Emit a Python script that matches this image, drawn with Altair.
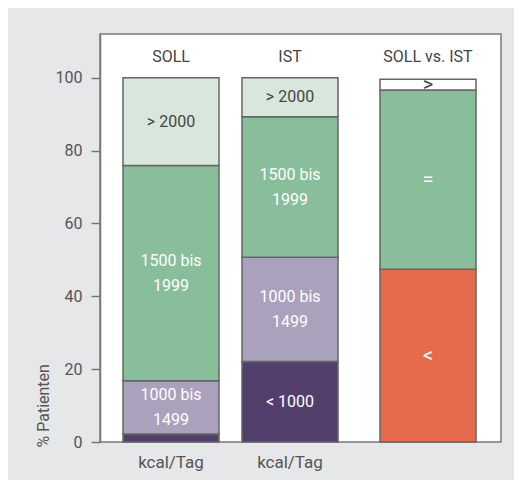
import altair as alt
import pandas as pd

# ---- data ----
groups = ["SOLL", "SOLL", "SOLL", "SOLL",
          "IST", "IST", "IST", "IST",
          "SOLL vs. IST", "SOLL vs. IST", "SOLL vs. IST"]
categories = ["< 1000", "1000 bis 1499", "1500 bis 1999", "> 2000",
              "< 1000", "1000 bis 1499", "1500 bis 1999", "> 2000",
              "<", "=", ">"]
values = [2.2, 14.6, 59.1, 24.1,
          22.1, 28.6, 38.6, 10.7,
          47.4, 49.2, 3.0]
labels = ["", "1000 bis\n1499", "1500 bis\n1999", "> 2000",
          "< 1000", "1000 bis\n1499", "1500 bis\n1999", "> 2000",
          "<", "=", ">"]
order = [0, 1, 2, 3, 0, 1, 2, 3, 0, 1, 2]

header_groups = ["SOLL", "IST", "SOLL vs. IST"]
header_texts = ["SOLL", "IST", "SOLL vs. IST"]
bottom_groups = ["SOLL", "IST"]
bottom_texts = ["kcal/Tag", "kcal/Tag"]

cat_domain = ["< 1000", "1000 bis 1499", "1500 bis 1999", "> 2000", "<", "=", ">"]
cat_fill = ["#533f6b", "#aaa1bd", "#88be99", "#d8e7db", "#e66b4d", "#88be99", "#ffffff"]
cat_text = ["#ffffff", "#ffffff", "#ffffff", "#444444", "#ffffff", "#ffffff", "#444444"]

df = pd.DataFrame({"grp": groups, "cat": categories, "val": values,
                   "label": labels, "ord": order})
hdr = pd.DataFrame({"grp": header_groups, "txt": header_texts})
bot = pd.DataFrame({"grp": bottom_groups, "txt": bottom_texts})

FONT = "Roboto, sans-serif"
W, H = 401, 408
BAR = 96
# layout: left edge (px) of each column inside the plot area
slot_expr = "(datum.grp == 'SOLL' ? 23 : (datum.grp == 'IST' ? 142 : 280))"

xsc = alt.Scale(domain=[0, W], nice=False, zero=False)
ysc = alt.Scale(domain=[0, 112], nice=False)
cat_text_scale = alt.Scale(domain=cat_domain, range=cat_text)

base = alt.Chart(df).transform_stack(
    stack="val", groupby=["grp"], as_=["y0", "y1"], sort=[alt.SortField("ord")]
).transform_calculate(
    xl=slot_expr, xr=slot_expr + " + " + str(BAR),
    xm=slot_expr + " + " + str(BAR / 2), ym="(datum.y0 + datum.y1) / 2",
    l1="split(datum.label, '\\n')[0]",
    l2="length(split(datum.label, '\\n')) > 1 ? split(datum.label, '\\n')[1] : ''",
    nl="length(split(datum.label, '\\n'))",
)

bars = base.mark_bar(stroke="#666666", strokeWidth=1.5).encode(
    x=alt.X("xl:Q", scale=xsc, axis=None),
    x2="xr:Q",
    y=alt.Y("y0:Q", scale=ysc, axis=alt.Axis(
        values=[0, 20, 40, 60, 80, 100], grid=False,
        domainColor="#777777", domainWidth=1.5, tickColor="#777777", tickWidth=1.5,
        tickSize=9, labelPadding=9, labelFont=FONT, labelFontSize=16,
        labelColor="#555555", title="% Patienten", titleFont=FONT,
        titleFontSize=16, titleFontWeight="normal", titleColor="#555555",
        titleAngle=-90, titleAlign="left", titleBaseline="alphabetic",
        titleX=-52, titleY=413)),
    y2="y1:Q",
    fill=alt.Fill("cat:N", scale=alt.Scale(domain=cat_domain, range=cat_fill), legend=None),
)


def seg_layer(field, cond, dy, size):
    return base.transform_filter(cond).mark_text(
        font=FONT, fontSize=size, baseline="middle", align="center", dy=dy
    ).encode(
        x=alt.X("xm:Q", scale=xsc, axis=None),
        y=alt.Y("ym:Q", scale=ysc),
        text=f"{field}:N",
        color=alt.Color("cat:N", scale=cat_text_scale, legend=None),
    )


single = seg_layer("l1", "datum.nl == 1 && length(datum.l1) > 1", 0, 16)
symbols = seg_layer("l1", "datum.nl == 1 && length(datum.l1) == 1", 0, 20)
first = seg_layer("l1", "datum.nl == 2", -12.5, 16)
second = seg_layer("l2", "datum.nl == 2", 13, 16)

headers = alt.Chart(hdr).transform_calculate(
    xm=slot_expr + " + " + str(BAR / 2)
).mark_text(font=FONT, fontSize=16, color="#444444", baseline="middle").encode(
    x=alt.X("xm:Q", scale=xsc, axis=None),
    y=alt.value(23),
    text="txt:N",
)

bottoms = alt.Chart(bot).transform_calculate(
    xm=slot_expr + " + " + str(BAR / 2)
).mark_text(font=FONT, fontSize=17, color="#555555", baseline="middle").encode(
    x=alt.X("xm:Q", scale=xsc, axis=None),
    y=alt.value(429),
    text="txt:N",
)

chart = alt.layer(bars, single, symbols, first, second, headers, bottoms).properties(
    width=W, height=H,
    background="#e6e7e8",
    padding={"left": 92, "top": 26, "right": 13, "bottom": 38},
    autosize=alt.AutoSizeParams(type="none"),
).configure_view(
    fill="#ffffff", stroke="#7a7a7a", strokeWidth=1.5
)

chart.save("out.html", embed_options={"renderer": "svg", "actions": False})
